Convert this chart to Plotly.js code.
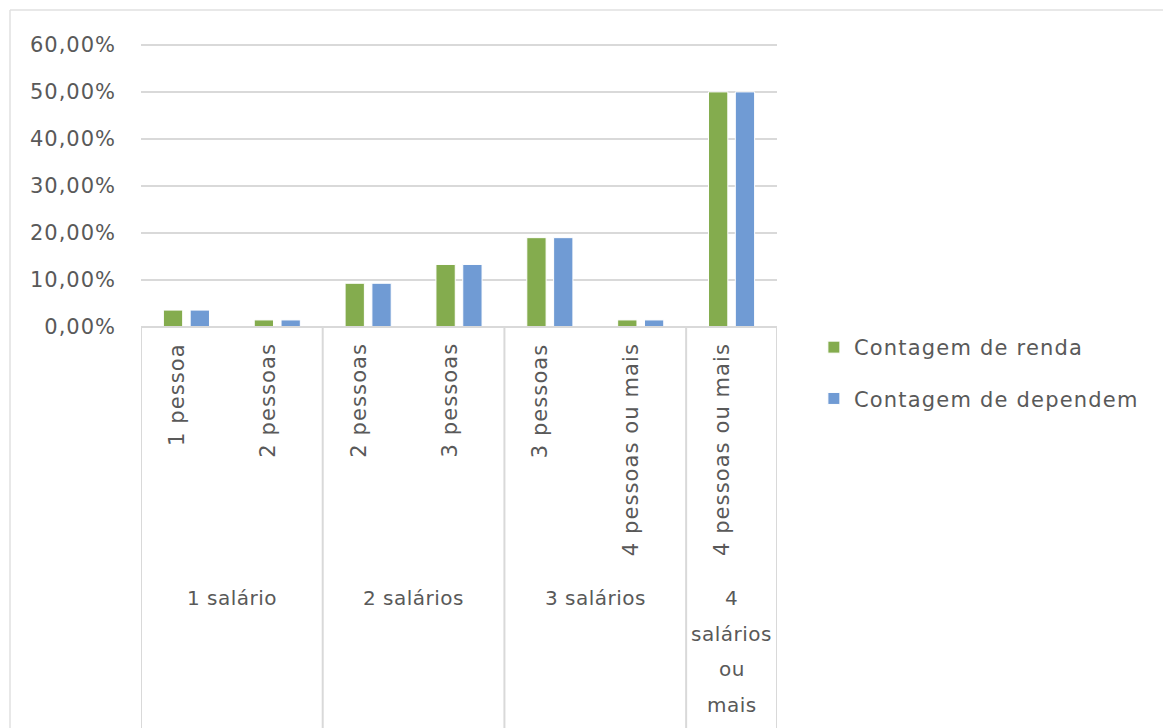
<!DOCTYPE html>
<html>
<head>
<meta charset="utf-8">
<script src="https://cdn.plot.ly/plotly-3.0.1.min.js"></script>
<style>html,body{margin:0;padding:0;background:#fff;}#chart{width:1163px;height:728px;}</style>
</head>
<body>
<div id="chart"></div>
<script>
// ---- data ----
var subLabels = ['1 pessoa', '2 pessoas', '2 pessoas', '3 pessoas', '3 pessoas', '4 pessoas ou mais', '4 pessoas ou mais'];
var groupLabels = ['1 salário', '2 salários', '3 salários', '4 salários ou mais'];
var groupSizes = [2, 2, 2, 1];
var groupLabelLines = [['1 salário'], ['2 salários'], ['3 salários'], ['4', 'salários', 'ou', 'mais']];
var renda = [0.036, 0.015, 0.093, 0.133, 0.190, 0.015, 0.500];
var dependem = [0.036, 0.015, 0.093, 0.133, 0.190, 0.015, 0.500];
var seriesNames = ['Contagem de renda', 'Contagem de dependem'];
var yTicks = [0, 0.1, 0.2, 0.3, 0.4, 0.5, 0.6];
var yTickText = ['0,00%', '10,00%', '20,00%', '30,00%', '40,00%', '50,00%', '60,00%'];

var idx = subLabels.map(function (_, i) { return i; });
var txtColor = '#595959';
var fontFam = 'DejaVu Sans, Verdana, sans-serif';
var lineColor = '#d9d9d9';
function sp(t, ls) { return '<span style="letter-spacing:' + ls + 'px">' + t + '</span>'; }

var traces = [
  { type: 'bar', x: idx, y: renda, name: sp(seriesNames[0], 1.2), legendgroup: 'a',
    marker: { color: '#84ac4e', line: { color: '#ffffff', width: 1 } }, hoverinfo: 'y' },
  { type: 'bar', x: idx, y: dependem, name: sp(seriesNames[1], 1.2), legendgroup: 'b',
    marker: { color: '#709bd4', line: { color: '#ffffff', width: 1 } }, hoverinfo: 'y' }
];

var plotH = 284;
var annotations = [];
subLabels.forEach(function (lab, i) {
  annotations.push({ xref: 'x', yref: 'paper', x: i, y: 0, text: sp(lab, 1.1), showarrow: false,
    textangle: -90, xanchor: 'center', yanchor: 'top', xshift: -10, yshift: -14,
    font: { family: fontFam, size: 21, color: txtColor } });
});

var shapes = [];
shapes.push({ type: 'line', xref: 'x', yref: 'paper', x0: -0.5, x1: subLabels.length - 0.5, y0: 0, y1: 0,
  line: { color: lineColor, width: 2 } });
var start = 0;
groupSizes.forEach(function (n, g) {
  var center = start + (n - 1) / 2;
  groupLabelLines[g].forEach(function (ln, k) {
    annotations.push({ xref: 'x', yref: 'paper', x: center, y: 0, text: sp(ln, 0.5), showarrow: false,
      xanchor: 'center', yanchor: 'middle', yshift: -(271 + k * 35.5),
      font: { family: fontFam, size: 20, color: txtColor } });
  });
  start += n;
});
var bounds = [-0.5];
var acc = -0.5;
groupSizes.forEach(function (n) { acc += n; bounds.push(acc); });
bounds.forEach(function (b) {
  shapes.push({ type: 'line', xref: 'x', yref: 'paper', x0: b, x1: b, y0: 0, y1: -(401 / plotH),
    line: { color: lineColor, width: 2 } });
});
shapes.push({ type: 'line', xref: 'paper', yref: 'paper', x0: -131 / 636, x1: 1100 / 636, y0: 317 / plotH, y1: 317 / plotH,
  line: { color: '#e0e0e0', width: 1.5 } });
shapes.push({ type: 'line', xref: 'paper', yref: 'paper', x0: -131 / 636, x1: -131 / 636, y0: 317 / plotH, y1: -410 / plotH,
  line: { color: '#e0e0e0', width: 1.5 } });

var layout = {
  width: 1163, height: 728,
  margin: { l: 141, r: 386, t: 43, b: 401, pad: 0 },
  paper_bgcolor: '#ffffff', plot_bgcolor: '#ffffff',
  barmode: 'group', bargap: 0.41, bargroupgap: 0.28,
  showlegend: true,
  legend: { x: 1.058, xanchor: 'left', y: -0.0, yanchor: 'top', traceorder: 'grouped', tracegroupgap: 21,
    itemwidth: 30, font: { family: fontFam, size: 21, color: txtColor }, bgcolor: 'rgba(0,0,0,0)' },
  xaxis: { range: [-0.5, subLabels.length - 0.5], showticklabels: false, showgrid: false, zeroline: false,
    showline: false, ticks: '', fixedrange: true },
  yaxis: { range: [0, 0.604], tickvals: yTicks, ticktext: yTickText.map(function (t) { return sp(t, 1); }),
    showgrid: true, gridcolor: lineColor, gridwidth: 2,
    zeroline: false, showline: false, ticks: '', ticklabelstandoff: 24,
    tickfont: { family: fontFam, size: 21, color: txtColor }, fixedrange: true },
  annotations: annotations,
  shapes: shapes,
  font: { family: fontFam, color: txtColor }
};

Plotly.newPlot('chart', traces, layout, { displayModeBar: false, staticPlot: true });
</script>
</body>
</html>
